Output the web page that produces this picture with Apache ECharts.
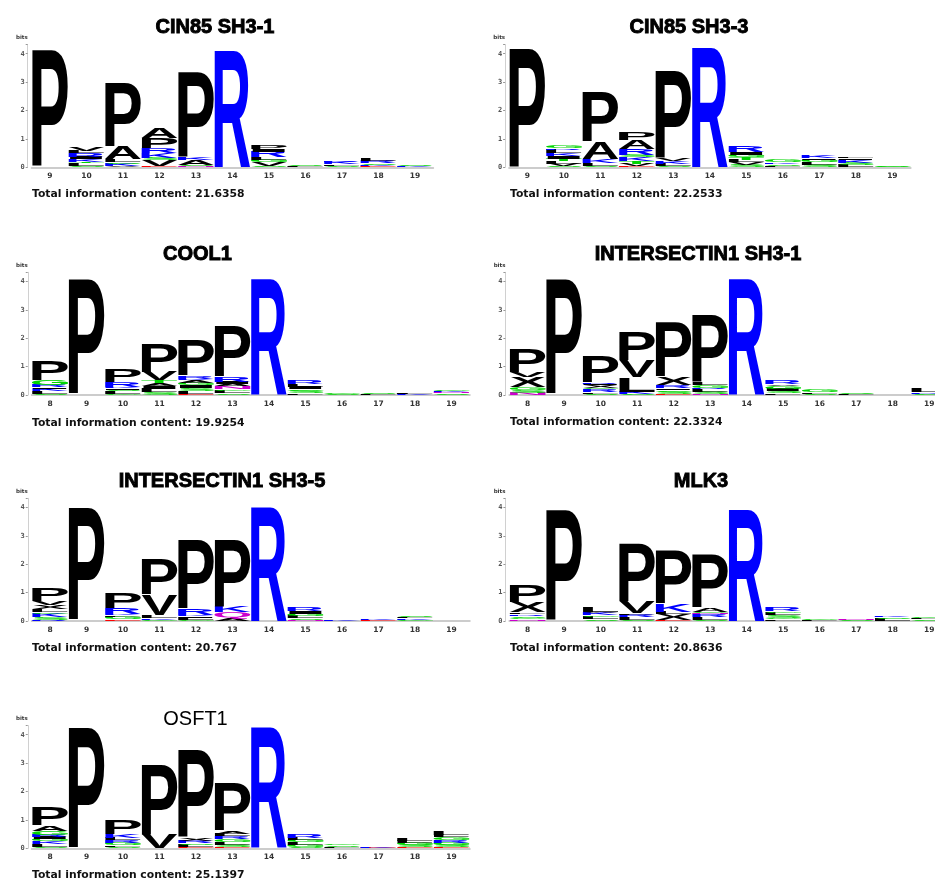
<!DOCTYPE html>
<html><head><meta charset="utf-8">
<script src="https://cdn.jsdelivr.net/npm/echarts@6/dist/echarts.min.js"></script>
<style>html,body{margin:0;padding:0;background:#fff}#c{width:935px;height:886px}</style>
</head><body><div id="c"></div>
<script>
// ---------- DATA ----------
const positions9to19 = ['9','10','11','12','13','14','15','16','17','18','19'];
const positions8to19 = ['8','9','10','11','12','13','14','15','16','17','18','19'];
const panelTitles = ['CIN85 SH3-1','CIN85 SH3-3','COOL1','INTERSECTIN1 SH3-1','INTERSECTIN1 SH3-5','MLK3','OSFT1'];
const totalInfo = ['21.6358','22.2533','19.9254','22.3324','20.767','20.8636','25.1397'];

// each column: letters stacked bottom -> top, [letter, bits]
const logoCin85Sh3_1 = [
  [['P',4.1]],
  [['S',0.06],['L',0.08],['T',0.06],['K',0.1],['I',0.08],['R',0.12],['L',0.08],['V',0.15]],
  [['V',0.05],['K',0.08],['S',0.05],['L',0.1],['A',0.45],['P',2.22]],
  [['E',0.04],['V',0.2],['S',0.08],['K',0.18],['R',0.17],['P',0.35],['A',0.36]],
  [['N',0.04],['S',0.04],['A',0.16],['K',0.09],['P',3.03]],
  [['R',4.1]],
  [['S',0.05],['V',0.15],['G',0.07],['L',0.08],['R',0.2],['I',0.1],['P',0.14]],
  [['L',0.03],['S',0.02]],
  [['S',0.05],['L',0.06],['K',0.08],['R',0.06]],
  [['E',0.03],['K',0.06],['S',0.05],['R',0.08],['L',0.07]],
  [['K',0.03],['S',0.02]]
];
const logoCin85Sh3_3 = [
  [['P',4.2]],
  [['S',0.05],['V',0.08],['L',0.1],['T',0.07],['I',0.1],['K',0.1],['L',0.12],['R',0.05],['G',0.1]],
  [['S',0.05],['L',0.1],['K',0.15],['A',0.59],['P',1.74]],
  [['E',0.03],['V',0.1],['T',0.1],['K',0.12],['S',0.1],['R',0.2],['A',0.3],['P',0.29]],
  [['S',0.05],['L',0.08],['K',0.1],['V',0.07],['P',3.1]],
  [['R',4.2]],
  [['S',0.07],['V',0.1],['L',0.1],['T',0.1],['G',0.08],['I',0.1],['R',0.22]],
  [['L',0.06],['S',0.06],['K',0.06],['G',0.08]],
  [['S',0.08],['L',0.1],['G',0.07],['I',0.06],['K',0.08]],
  [['L',0.08],['S',0.08],['K',0.1],['I',0.06],['L',0.06]],
  [['S',0.02],['G',0.02]]
];
const logoCool1 = [
  [['S',0.05],['L',0.08],['K',0.08],['I',0.06],['R',0.08],['G',0.17],['P',0.66]],
  [['P',4.06]],
  [['G',0.05],['L',0.08],['S',0.05],['I',0.06],['K',0.05],['R',0.17],['P',0.43]],
  [['S',0.1],['L',0.12],['I',0.1],['A',0.1],['T',0.1],['V',0.29],['P',0.99]],
  [['E',0.05],['L',0.1],['S',0.1],['I',0.1],['G',0.08],['A',0.1],['K',0.05],['R',0.1],['P',1.23]],
  [['S',0.06],['L',0.08],['G',0.06],['N',0.1],['A',0.08],['I',0.08],['R',0.18],['P',1.76]],
  [['R',4.06]],
  [['L',0.06],['S',0.08],['G',0.06],['I',0.08],['L',0.1],['R',0.14]],
  [['S',0.05],['G',0.05]],
  [['L',0.04],['S',0.04]],
  [['K',0.03],['L',0.02]],
  [['S',0.06],['N',0.04],['K',0.04],['G',0.06]]
];
const logoIntersectin1Sh3_1 = [
  [['N',0.08],['S',0.1],['G',0.11],['X',0.34],['V',0.17],['P',0.81]],
  [['P',4.05]],
  [['S',0.05],['L',0.06],['R',0.1],['G',0.05],['X',0.08],['I',0.06],['R',0.06],['P',0.89]],
  [['S',0.05],['K',0.07],['L',0.51],['V',0.58],['P',0.98]],
  [['E',0.04],['S',0.08],['G',0.06],['I',0.06],['R',0.1],['X',0.29],['P',1.91]],
  [['N',0.05],['S',0.07],['L',0.08],['R',0.06],['G',0.1],['L',0.1],['P',2.36]],
  [['R',4.05]],
  [['L',0.06],['S',0.08],['I',0.08],['G',0.1],['V',0.06],['R',0.12]],
  [['S',0.05],['L',0.05],['G',0.1]],
  [['L',0.05],['S',0.03]],
  [],
  [['S',0.05],['R',0.05],['L',0.14]]
];
const logoIntersectin1Sh3_5 = [
  [['R',0.05],['S',0.08],['K',0.12],['G',0.06],['L',0.1],['X',0.15],['V',0.15],['P',0.44]],
  [['P',4.0]],
  [['E',0.06],['G',0.08],['L',0.06],['K',0.06],['R',0.2],['P',0.53]],
  [['G',0.05],['K',0.06],['L',0.1],['V',0.72],['P',1.25]],
  [['G',0.04],['L',0.08],['I',0.06],['K',0.04],['R',0.21],['P',2.44]],
  [['A',0.1],['Q',0.2],['K',0.21],['P',2.39]],
  [['R',4.0]],
  [['N',0.05],['S',0.05],['L',0.08],['G',0.08],['I',0.1],['R',0.12]],
  [['K',0.02],['S',0.01]],
  [['E',0.04],['K',0.04]],
  [['G',0.04],['K',0.06],['L',0.05],['S',0.05]],
  []
];
const logoMlk3 = [
  [['N',0.06],['G',0.06],['S',0.06],['R',0.06],['L',0.06],['X',0.35],['P',0.61]],
  [['P',3.9]],
  [['S',0.06],['L',0.08],['G',0.06],['K',0.07],['A',0.03],['L',0.17]],
  [['S',0.05],['L',0.08],['R',0.08],['L',0.06],['V',0.41],['P',2.04]],
  [['E',0.03],['X',0.22],['L',0.08],['K',0.29],['P',1.86]],
  [['S',0.05],['L',0.1],['R',0.08],['N',0.06],['G',0.04],['A',0.14],['P',1.86]],
  [['R',3.9]],
  [['L',0.06],['G',0.06],['S',0.08],['L',0.08],['G',0.06],['R',0.13]],
  [['L',0.04],['G',0.04]],
  [['S',0.04],['N',0.04]],
  [['L',0.08],['S',0.06],['K',0.06]],
  [['S',0.06],['L',0.06],['G',0.06]]
];
const logoOsft1 = [
  [['S',0.06],['L',0.08],['K',0.1],['G',0.08],['I',0.08],['R',0.08],['G',0.14],['A',0.2],['P',0.62]],
  [['P',4.24]],
  [['S',0.06],['L',0.06],['G',0.08],['R',0.08],['L',0.1],['K',0.13],['P',0.49]],
  [['V',0.47],['P',2.47]],
  [['E',0.04],['L',0.08],['S',0.06],['R',0.07],['X',0.1],['P',3.12]],
  [['E',0.04],['S',0.08],['L',0.1],['G',0.1],['R',0.1],['L',0.1],['A',0.1],['P',1.67]],
  [['R',4.24]],
  [['S',0.05],['G',0.08],['L',0.08],['G',0.07],['L',0.1],['R',0.15]],
  [['L',0.05],['S',0.05],['G',0.05]],
  [['E',0.02],['K',0.02]],
  [['E',0.04],['S',0.08],['G',0.08],['L',0.07],['L',0.08]],
  [['E',0.04],['S',0.08],['G',0.08],['R',0.1],['G',0.1],['L',0.07],['L',0.12]]
];

// ---------- STYLE / LAYOUT ----------
const letterColors = {
  P:'#000000',A:'#000000',V:'#000000',L:'#000000',I:'#000000',M:'#000000',F:'#000000',W:'#000000',X:'#000000',
  R:'#0000ff',K:'#0000ff',H:'#0000ff',
  G:'#00d400',S:'#00d400',T:'#00d400',Y:'#00d400',C:'#00d400',
  N:'#cc00cc',Q:'#cc00cc',
  D:'#ff0000',E:'#ff0000'
};
const panels = [
  {logo:logoCin85Sh3_1, cats:positions9to19, left:31.7,  base:167.3, title:[215,27.5], total:[32,194], bold:true},
  {logo:logoCin85Sh3_3, cats:positions9to19, left:509.1, base:167.3, title:[689,27.5], total:[510,194], bold:true},
  {logo:logoCool1, cats:positions8to19, left:31.75, base:395, title:[197.5,254.5], total:[32,423], bold:true},
  {logo:logoIntersectin1Sh3_1, cats:positions8to19, left:509.4, base:395, title:[698,254], total:[510,422], bold:true},
  {logo:logoIntersectin1Sh3_5, cats:positions8to19, left:31.75, base:621, title:[222,481], total:[32,648], bold:true},
  {logo:logoMlk3, cats:positions8to19, left:509.4, base:621, title:[701,481], total:[510,648], bold:true},
  {logo:logoOsft1, cats:positions8to19, left:31.75, base:848.3, title:[195.5,719.5], total:[32,875], bold:false}
];
const YMAX = 4.32, GRID_H = 122.7, COL_W = 36.5;
const LETTER_FONT_FAMILY = '"Liberation Sans", Arial, sans-serif';
const LETTER_FONT = 'bold 100px ' + LETTER_FONT_FAMILY;

// glyph metrics (text anchored center/middle)
const mctx = document.createElement('canvas').getContext('2d');
const glyphCache = {};
function glyph(ch) {
  if (glyphCache[ch]) return glyphCache[ch];
  mctx.font = LETTER_FONT; mctx.textAlign = 'center'; mctx.textBaseline = 'middle';
  const m = mctx.measureText(ch);
  const l = m.actualBoundingBoxLeft, r = m.actualBoundingBoxRight;
  const a = m.actualBoundingBoxAscent, d = m.actualBoundingBoxDescent;
  return glyphCache[ch] = {w: l + r, h: a + d, cx: (r - l) / 2, cy: (d - a) / 2};
}

const chart = echarts.init(document.getElementById('c'), null, {renderer:'canvas'});
const grid = [], xAxis = [], yAxis = [], series = [], graphicEls = [];

panels.forEach((p, i) => {
  grid.push({left:p.left, top:p.base - GRID_H, width:p.cats.length * COL_W, height:GRID_H,
    containLabel:false, outerBoundsMode:'none'});
  xAxis.push({type:'category', gridIndex:i, data:p.cats, boundaryGap:true,
    axisLine:{show:true, lineStyle:{color:'#cccccc', width:2}},
    axisTick:{show:false},
    axisLabel:{fontSize:7.5, fontWeight:'bold', fontFamily:'DejaVu Sans', color:'#333', margin:5, interval:0}});
  yAxis.push({type:'value', gridIndex:i, min:0, max:YMAX, interval:1, offset:4,
    name:'bits', nameLocation:'end', nameGap:4,
    nameTextStyle:{fontSize:5.5, fontWeight:'bold', fontFamily:'DejaVu Sans', color:'#333', align:'right', padding:[0,0,0,0]},
    axisLine:{show:true, lineStyle:{color:'#d0d0d0', width:1}},
    axisTick:{show:true, length:2, lineStyle:{color:'#999'}},
    splitLine:{show:false},
    axisLabel:{fontSize:7, fontWeight:'bold', fontFamily:'DejaVu Sans Mono', color:'#555', margin:3,
      formatter: v => (Math.abs(v - Math.round(v)) < 1e-9 ? String(Math.round(v)) : '')}});

  const flat = [];
  p.logo.forEach((col, ci) => {
    let y = 0;
    col.forEach(([ch, h]) => { flat.push({ci, y0:y, y1:y + h, ch}); y += h; });
  });
  series.push({
    type:'custom', xAxisIndex:i, yAxisIndex:i, clip:false, silent:true,
    data: flat.map(f => [f.ci, f.y0, f.y1]),
    encode:{x:0, y:[1,2]},
    renderItem: (params, api) => {
      const f = flat[params.dataIndex];
      const p0 = api.coord([f.ci, f.y0]);
      const p1 = api.coord([f.ci, f.y1]);
      const bw = api.size([1, 0])[0] * 0.99;
      const H = p0[1] - p1[1];
      if (H <= 0.05) return null;
      const g = glyph(f.ch);
      return {
        type:'text',
        x: p0[0], y: (p0[1] + p1[1]) / 2,
        scaleX: bw / g.w, scaleY: H / g.h,
        style:{text:f.ch, x:-g.cx, y:-g.cy, font:LETTER_FONT,
          fill:letterColors[f.ch] || '#000',
          align:'center', verticalAlign:'middle', textAlign:'center', textVerticalAlign:'middle'}
      };
    }
  });

  graphicEls.push({type:'text', x:p.title[0], y:p.title[1], silent:true,
    style:{text:panelTitles[i],
      font:(p.bold ? 'bold ' : '') + '20px "Liberation Sans", Arial, sans-serif',
      fill:'#000', stroke:p.bold ? '#000' : null, lineWidth:p.bold ? 0.9 : 0,
      align:'center', verticalAlign:'middle', textAlign:'center', textVerticalAlign:'middle'}});
  graphicEls.push({type:'text', x:p.total[0], y:p.total[1], silent:true,
    style:{text:'Total information content: ' + totalInfo[i],
      font:'bold 10.8px "DejaVu Sans", sans-serif',
      fill:'#111', align:'left', verticalAlign:'middle', textAlign:'left', textVerticalAlign:'middle'}});
});

chart.setOption({
  animation:false,
  backgroundColor:'#ffffff',
  grid, xAxis, yAxis, series,
  graphic:{elements:graphicEls}
});
</script>
</body></html>
